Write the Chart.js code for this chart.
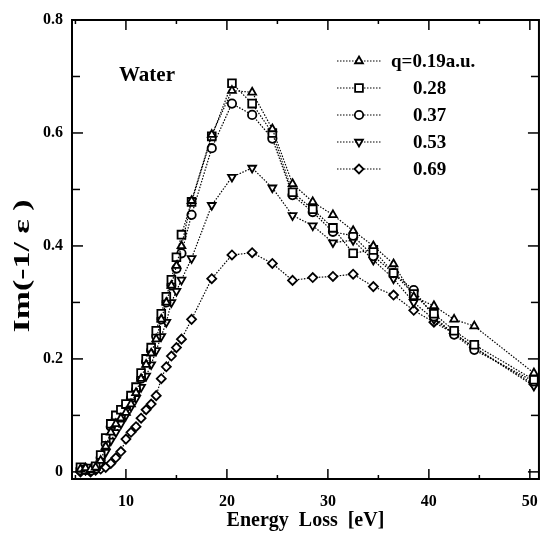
<!DOCTYPE html>
<html><head><meta charset="utf-8">
<script src="https://cdn.jsdelivr.net/npm/chart.js@4/dist/chart.umd.min.js"></script>
<style>html,body{margin:0;padding:0;background:#fff;}#wrap{width:551px;height:533px;}</style>
</head><body><div id="wrap"><canvas id="c" width="551" height="533"></canvas></div>
<script>
const energy = [5.5,6,6.5,7,7.5,8,8.5,9,9.5,10,10.5,11,11.5,12,12.5,13,13.5,14,14.5,15,15.5,16.5,18.5,20.5,22.5,24.5,26.5,28.5,30.5,32.5,34.5,36.5,38.5,40.5,42.5,44.5,50.4];
const q019 = [0.005,0.007,0.004,0.008,0.02,0.045,0.07,0.085,0.095,0.105,0.12,0.14,0.165,0.19,0.21,0.235,0.27,0.3,0.33,0.365,0.4,0.48,0.597,0.675,0.672,0.607,0.51,0.478,0.455,0.427,0.4,0.368,0.31,0.294,0.27,0.258,0.175];
const q028 = [0.008,0.004,0.006,0.01,0.03,0.06,0.085,0.1,0.11,0.12,0.135,0.15,0.175,0.2,0.22,0.25,0.28,0.31,0.34,0.38,0.42,0.478,0.594,0.688,0.652,0.6,0.495,0.465,0.432,0.387,0.393,0.352,0.315,0.28,0.25,0.225,0.163];
const q037 = [0.003,0.006,0.002,0.006,0.025,0.05,0.08,0.095,0.1,0.115,0.13,0.145,0.165,0.195,0.215,0.24,0.27,0.3,0.33,0.36,0.387,0.455,0.573,0.652,0.632,0.59,0.49,0.46,0.425,0.418,0.382,0.352,0.322,0.275,0.243,0.216,0.16];
const q053 = [0.002,0.004,0.003,0.005,0.015,0.035,0.055,0.07,0.085,0.1,0.115,0.13,0.15,0.17,0.19,0.215,0.24,0.265,0.3,0.32,0.34,0.378,0.472,0.522,0.538,0.503,0.454,0.436,0.406,0.41,0.375,0.342,0.3,0.27,0.245,0.22,0.152];
const q069 = [0,0.003,0,0.003,0.005,0.008,0.015,0.025,0.036,0.058,0.07,0.08,0.095,0.11,0.12,0.135,0.165,0.186,0.205,0.22,0.235,0.27,0.342,0.384,0.388,0.369,0.339,0.344,0.346,0.35,0.328,0.313,0.286,0.265,0.245,0.22,0.155];
const seriesLabels = ['q=0.19a.u.','0.28','0.37','0.53','0.69'];
const xTickLabels = [10,20,30,40,50];
const xMinorTicks = [5,15,25,35,45];
const yTickLabels = [0,0.2,0.4,0.6,0.8];
const yMinorTicks = [0.1,0.3,0.5,0.7];

const serif = "'Liberation Serif','DejaVu Serif',serif";
const styles = [
  {pointStyle:'triangle', rotation:0, radius:4.5},
  {pointStyle:'rect', rotation:0, radius:5.5},
  {pointStyle:'circle', rotation:0, radius:4.2},
  {pointStyle:'triangle', rotation:180, radius:4.5},
  {pointStyle:'rectRot', rotation:0, radius:4.5}
];
const allSeries = [q019,q028,q037,q053,q069];
const datasets = allSeries.map((s,i)=>({
  label: seriesLabels[i],
  data: energy.map((e,k)=>({x:e,y:s[k]})),
  borderColor:'#000', borderWidth:1.2, borderDash:[1.5,1.5],
  backgroundColor:'#fff', pointBackgroundColor:'#fff', pointBorderColor:'#000',
  pointBorderWidth:1.8, pointStyle:styles[i].pointStyle, pointRotation:styles[i].rotation,
  pointRadius:styles[i].radius, tension:0, fill:false
}));

const decor = {
  id:'decor',
  afterDraw(chart){
    const {ctx, chartArea:a, scales:{x,y}} = chart;
    ctx.save();
    ctx.strokeStyle='#000'; ctx.fillStyle='#000';
    const line=(x1,y1,x2,y2)=>{ctx.beginPath();ctx.moveTo(x1,y1);ctx.lineTo(x2,y2);ctx.stroke();};
    ctx.lineWidth=1.5;
    xTickLabels.forEach(v=>{const p=x.getPixelForValue(v); line(p,a.bottom,p,a.bottom-10); line(p,a.top,p,a.top+10);});
    xMinorTicks.forEach(v=>{const p=x.getPixelForValue(v); line(p,a.bottom,p,a.bottom-4); line(p,a.top,p,a.top+4);});
    yTickLabels.forEach(v=>{const p=y.getPixelForValue(v); line(a.left,p,a.left+11,p); line(a.right,p,a.right-11,p);});
    yMinorTicks.forEach(v=>{const p=y.getPixelForValue(v); line(a.left,p,a.left+8,p); line(a.right,p,a.right-8,p);});
    ctx.lineWidth=2;
    ctx.strokeRect(a.left,a.top,a.right-a.left,a.bottom-a.top);
    // Water label
    ctx.font = 'bold 21px '+serif; ctx.textBaseline='middle'; ctx.textAlign='left';
    ctx.fillText('Water', 119, 76);
    // legend
    const rows=[61,88,115,142,169];
    seriesLabels.forEach((lab,i)=>{
      const yy=rows[i];
      ctx.lineWidth=1.2; ctx.setLineDash([1.5,1.5]);
      line(337,yy,381,yy);
      ctx.setLineDash([]);
      ctx.lineWidth=1.8; ctx.fillStyle='#fff'; ctx.strokeStyle='#000';
      Chart.helpers.drawPoint(ctx,{pointStyle:styles[i].pointStyle, rotation:styles[i].rotation, radius:styles[i].radius, borderWidth:1.8}, 359, yy);
      ctx.fillStyle='#000';
      ctx.font='bold 19px '+serif;
      ctx.fillText(lab, i===0?391:413, yy+1);
    });
    // y title
    ctx.save();
    ctx.translate(23,266); ctx.rotate(-Math.PI/2);
    ctx.font='bold 24px '+serif; ctx.textAlign='center'; ctx.textBaseline='middle';
    const t='Im(-1/ ε )';
    const w=ctx.measureText(t).width;
    ctx.scale(133/w,1);
    ctx.fillText(t,0,0);
    ctx.restore();
    ctx.restore();
  }
};

new Chart(document.getElementById('c'),{
  type:'line',
  data:{datasets},
  options:{
    responsive:false, animation:false, devicePixelRatio:1,
    layout:{padding:{top:20,right:3,left:0,bottom:0}},
    plugins:{legend:{display:false},tooltip:{enabled:false}},
    scales:{
      x:{type:'linear',min:4.66,max:50.9,
        grid:{display:false,drawTicks:false}, border:{display:false},
        afterBuildTicks:s=>{s.ticks=xTickLabels.map(v=>({value:v}));},
        afterFit:s=>{s.height=54;},
        ticks:{autoSkip:false,maxRotation:0,color:'#000',padding:13,font:{family:serif,size:16,weight:'bold'},callback:v=>String(v)},
        title:{display:true,text:'Energy  Loss  [eV]',color:'#000',font:{family:serif,size:20,weight:'bold'},padding:{top:0,bottom:0}}
      },
      y:{type:'linear',min:-0.0126,max:0.8,
        grid:{display:false,drawTicks:false}, border:{display:false},
        afterBuildTicks:s=>{s.ticks=yTickLabels.map(v=>({value:v}));},
        afterFit:s=>{s.width=72;},
        ticks:{autoSkip:false,color:'#000',padding:9,font:{family:serif,size:16,weight:'bold'},callback:v=>String(v)}
      }
    }
  },
  plugins:[decor]
});
</script></body></html>
